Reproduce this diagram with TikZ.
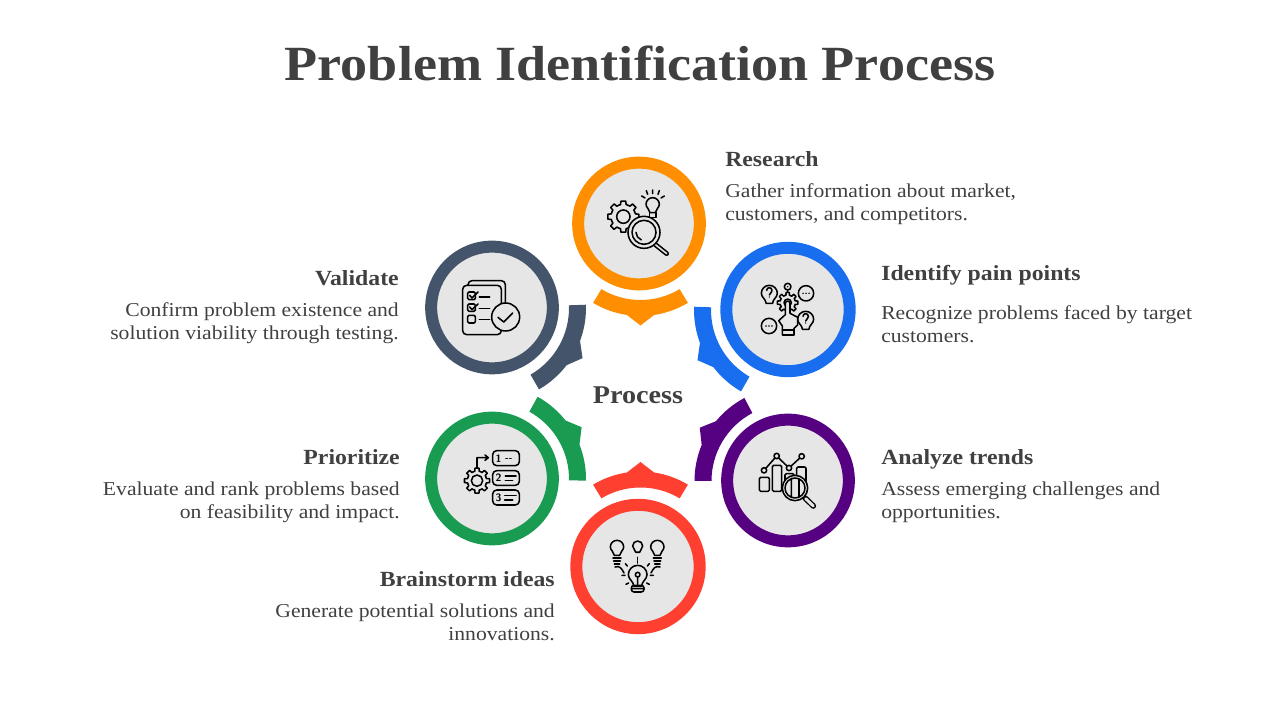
\documentclass[tikz,border=0pt]{standalone}
\usepackage{fontspec}
\setmainfont{Liberation Serif}[FakeStretch=1.1]
\usetikzlibrary{positioning}
\definecolor{ringorange}{HTML}{FF8F00}
\definecolor{ringblue}{HTML}{196EEF}
\definecolor{ringpurple}{HTML}{560082}
\definecolor{ringred}{HTML}{FF3F30}
\definecolor{ringgreen}{HTML}{1A9B52}
\definecolor{ringslate}{HTML}{44546A}
\definecolor{ringgray}{HTML}{E6E6E6}
\definecolor{inktext}{HTML}{404040}
\tikzset{
  ring/.style={circle,draw,line width=9pt,fill=ringgray,minimum size=91.25pt,inner sep=0pt,outer sep=0pt},
  headr/.style={anchor=base west,inner sep=0pt,text=inktext,font=\fontsize{16.2}{18}\selectfont\bfseries},
  headl/.style={headr,anchor=base east},
  bodyr/.style={anchor=north west,inner sep=0pt,align=left,text=inktext,font=\fontsize{14.75}{17.25}\selectfont},
  bodyl/.style={bodyr,anchor=north east,align=right},
  iconline/.style={draw=black,line width=1.15pt,line join=round,line cap=round},
}
% sector with a pointed bump: colour, centre x, centre y, middle angle, inner radius, outer radius
\newcommand{\bumparc}[6]{%
  \fill[#1] ([shift={(#2,#3)}]#4-31:#5) arc[start angle=#4-31,end angle=#4+31,radius=#5]
    -- ([shift={(#2,#3)}]#4+31:#6) arc[start angle=#4+31,end angle=#4+8.5,radius=#6]
    -- ([shift={(#2,#3)}]#4:#6+9.5) -- ([shift={(#2,#3)}]#4-8.5:#6)
    arc[start angle=#4-8.5,end angle=#4-31,radius=#6] -- cycle;}
% gear outline: centre x, centre y, outer radius, root radius (icon units)
\newcommand{\icongear}[4]{%
  \begin{scope}[shift={(#1,#2)}]
    \fill[ringgray] (0,0) circle[radius=#4];
    \foreach \a in {0,45,...,315}
      \draw[iconline] (\a-22.5:#4) -- (\a-13:#4) -- (\a-9:#3) -- (\a+9:#3) -- (\a+13:#4) -- (\a+22.5:#4);
  \end{scope}}
% bulb outline: centre x, centre y, radius (icon units)
\newcommand{\iconbulb}[3]{%
  \draw[iconline] (#1-0.4*#3,#2+1.25*#3) .. controls (#1-0.45*#3,#2+0.7*#3) and (#1-#3,#2+0.5*#3) .. (#1-#3,#2)
    arc[start angle=180,end angle=360,radius=#3]
    .. controls (#1+#3,#2+0.5*#3) and (#1+0.45*#3,#2+0.7*#3) .. (#1+0.4*#3,#2+1.25*#3) -- cycle;}
% question mark inside a bulb: centre x, centre y (icon units)
\newcommand{\iconquery}[2]{%
  \draw[iconline] (#1-8,#2-7) arc[start angle=180,end angle=400,radius=8] -- (#1,#2+7);
  \fill (#1,#2+13) circle[radius=2.2];}
\begin{document}
\begin{tikzpicture}[x=0.75pt,y=0.75pt]
  \useasboundingbox (0,0) rectangle (1280,720);
  %% ── Title and centre label ───────────────────────────
  \node[text=inktext,inner sep=0pt,font=\fontsize{36.9}{40}\selectfont\bfseries] (title) at (640,657) {Problem Identification Process};
  \node[text=inktext,inner sep=0pt,font=\fontsize{19.2}{21}\selectfont\bfseries] (center) at (638,325) {Process};
  %% ── Sectors round the centre ─────────────────────────
  \bumparc{ringorange}{640.5}{496}{270}{76}{92}
  \bumparc{ringblue}{788}{410}{209}{77}{94}
  \bumparc{ringpurple}{788.5}{239}{149}{77}{94}
  \bumparc{ringred}{640.5}{156.5}{90}{76}{92}
  \bumparc{ringgreen}{492}{241}{30}{77}{94}
  \bumparc{ringslate}{492}{412}{331}{77}{94}
  %% ── Rings ────────────────────────────────────────────
  \node[ring,draw=ringorange] (research) at (639,496.5) {};
  \node[ring,draw=ringblue,minimum size=92.5pt] (painpts) at (788,410.5) {};
  \node[ring,draw=ringpurple] (trends)   at (788,239.5) {};
  \node[ring,draw=ringred,minimum size=92.5pt] (ideas) at (638,153.5) {};
  \node[ring,draw=ringgreen]  (rank)     at (492,241.5) {};
  \node[ring,draw=ringslate]  (validate) at (492,412.5) {};
  %% ── Labels, right side ───────────────────────────────
  \node[headr] (researchh) at (725,553) {Research};
  \node[bodyr] (researchb) at (725,536.5) {Gather information about market,\\customers, and competitors.};
  \node[headr] (painptsh) at (881,439) {Identify pain points};
  \node[bodyr] (painptsb) at (881,414.5) {Recognize problems faced by target\\customers.};
  \node[headr] (trendsh) at (881,255) {Analyze trends};
  \node[bodyr] (trendsb) at (881,238.5) {Assess emerging challenges and\\opportunities.};
  %% ── Labels, left side ────────────────────────────────
  \node[headl] (ideash) at (555,133) {Brainstorm ideas};
  \node[bodyl] (ideasb) at (555,116.5) {Generate potential solutions and\\innovations.};
  \node[headl] (rankh) at (400,255) {Prioritize};
  \node[bodyl] (rankb) at (400,238.5) {Evaluate and rank problems based\\on feasibility and impact.};
  \node[headl] (validateh) at (399,434) {Validate};
  \node[bodyl] (validateb) at (399,417.5) {Confirm problem existence and\\solution viability through testing.};
  %% ── Icon: research ───────────────────────────────────
  \begin{scope}[shift={(570,565)},x=0.25pt,y=-0.25pt]
    \icongear{160}{185}{47}{37}
    \draw[iconline] (160,185) circle[radius=20];
    \iconbulb{248}{148}{20}
    \draw[iconline] (238,173) rectangle (258,188);
    \draw[iconline] (215,123)--(225,129) (229,107)--(233,118) (248,105)--(248,116) (268,107)--(264,118) (283,123)--(273,129);
    \draw[iconline,line width=3.6pt] (255,268)--(290,296);
    \draw[draw=ringgray,line width=1.2pt,line cap=round] (255,268)--(290,296);
    \draw[iconline,fill=ringgray] (222,232) circle[radius=48];
    \draw[iconline] (222,232) circle[radius=36];
    \draw[iconline] (198,232) arc[start angle=180,end angle=110,radius=24,x=-0.25pt,y=0.25pt];
  \end{scope}
  %% ── Icon: pain points ────────────────────────────────
  \begin{scope}[shift={(720,480)},x=0.25pt,y=-0.25pt]
    \icongear{203}{188}{31}{23}
    \draw[iconline] (203,188) circle[radius=11];
    \draw[iconline] (203,140) circle[radius=10] (203,150)--(203,157);
    \fill (203,140) circle[radius=2.5];
    \iconbulb{148}{160}{24}
    \iconquery{148}{158}
    \iconbulb{257}{238}{24}
    \iconquery{257}{236}
    \draw[iconline] (258,160) circle[radius=23] (147,258) circle[radius=23];
    \foreach \d in {-9,0,9} {
      \fill (258+\d,160) circle[radius=2.5];
      \fill (147+\d,258) circle[radius=2.5];
    }
    \draw[iconline,fill=ringgray] (187,285)--(187,258)--(176,242)--(196,224)--(196,190) arc[start angle=180,end angle=360,radius=7]
      --(210,220)--(233,232)--(233,255)--(222,265)--(222,285)--cycle;
    \draw[iconline] (187,270)--(222,270);
  \end{scope}
  %% ── Icon: trends ─────────────────────────────────────
  \begin{scope}[shift={(720,308)},x=0.25pt,y=-0.25pt]
    \draw[iconline,rounded corners=1pt] (118,196) rectangle (148,238);
    \draw[iconline,rounded corners=1pt] (157,160) rectangle (185,238);
    \draw[iconline,rounded corners=1pt] (195,185) rectangle (222,238);
    \draw[iconline,rounded corners=1pt] (230,165) rectangle (258,238);
    \draw[iconline] (132,175)--(170,132)--(207,168)--(245,133);
    \foreach \px/\py in {132/175,170/132,207/168,245/133}
      \draw[iconline,fill=ringgray] (\px,\py) circle[radius=8];
    \draw[iconline,line width=4.2pt] (255,258)--(280,282);
    \draw[draw=ringgray,line width=2.2pt,line cap=round] (257,260)--(280,282);
    \draw[iconline,fill=ringgray] (225,228) circle[radius=38];
    \draw[iconline] (225,228) circle[radius=30] (214,199)--(214,256) (237,200)--(237,256);
  \end{scope}
  %% ── Icon: ideas ──────────────────────────────────────
  \begin{scope}[shift={(570,223)},x=0.25pt,y=-0.25pt]
    \iconbulb{141}{150}{20}
    \iconbulb{203}{147}{15}
    \iconbulb{262}{150}{20}
    \draw[iconline] (129,183)--(153,183) (131,192)--(151,192) (133,201)--(149,201);
    \draw[iconline] (250,183)--(274,183) (252,192)--(272,192) (254,201)--(270,201);
    \draw[iconline] (203,181)--(203,188) (203,192)--(203,198);
    \draw[iconline] (135,210) .. controls (150,205) and (155,215) .. (162,228);
    \draw[iconline] (270,210) .. controls (255,205) and (250,215) .. (243,228);
    \draw[iconline] (156,235)--(165,235) (241,235)--(250,235) (166,200)--(172,207) (238,200)--(232,207)
      (168,262)--(176,258) (238,262)--(230,258);
    \iconbulb{203}{233}{28}
    \draw[iconline] (203,233) circle[radius=7] (203,240)--(203,262);
    \draw[iconline,rounded corners=2pt] (184,265) rectangle (222,285) (184,275)--(222,275);
  \end{scope}
  %% ── Icon: rank ───────────────────────────────────────
  \begin{scope}[shift={(422,310)},x=0.25pt,y=-0.25pt]
    \icongear{165}{212}{38}{29}
    \draw[iconline] (165,212) circle[radius=17];
    \draw[iconline] (165,174)--(165,143)--(198,143) (189,135)--(199,143)--(189,151);
    \draw[iconline,rounded corners=3pt] (212,122) rectangle (292,167);
    \draw[iconline,rounded corners=3pt] (212,182) rectangle (292,226);
    \draw[iconline,rounded corners=3pt] (212,240) rectangle (292,285);
    \node[inner sep=0pt,font=\fontsize{8}{8}\selectfont\bfseries\sffamily] (rone) at (230,145) {1};
    \node[inner sep=0pt,font=\fontsize{8}{8}\selectfont\bfseries\sffamily] (rtwo) at (230,204) {2};
    \node[inner sep=0pt,font=\fontsize{8}{8}\selectfont\bfseries\sffamily] (rthree) at (230,263) {3};
    \draw[iconline] (252,145)--(256,145) (263,145)--(267,145);
    \draw[iconline] (250,198)--(282,198) (250,211)--(272,211);
    \draw[iconline] (248,257)--(282,257) (248,270)--(272,270);
  \end{scope}
  %% ── Icon: validate ───────────────────────────────────
  \begin{scope}[shift={(422,482)},x=0.25pt,y=-0.25pt]
    \draw[iconline,rounded corners=3pt] (138,142)--(138,128)--(250,128)--(250,198);
    \draw[iconline,rounded corners=3pt] (238,198)--(238,142)--(122,142)--(122,290)--(238,290)--(238,278);
    \draw[iconline,rounded corners=1pt] (137,162) rectangle (160,185);
    \draw[iconline,rounded corners=1pt] (137,198) rectangle (160,220);
    \draw[iconline,rounded corners=1pt] (137,232) rectangle (160,255);
    \draw[iconline] (143,172)--(150,180)--(168,162) (143,207)--(150,215)--(168,198);
    \draw[iconline] (172,177)--(203,177) (172,212)--(203,212) (172,245)--(203,245);
    \draw[iconline,fill=ringgray] (251,237) circle[radius=42];
    \draw[iconline] (228,238)--(245,252)--(272,225);
  \end{scope}
\end{tikzpicture}
\end{document}
